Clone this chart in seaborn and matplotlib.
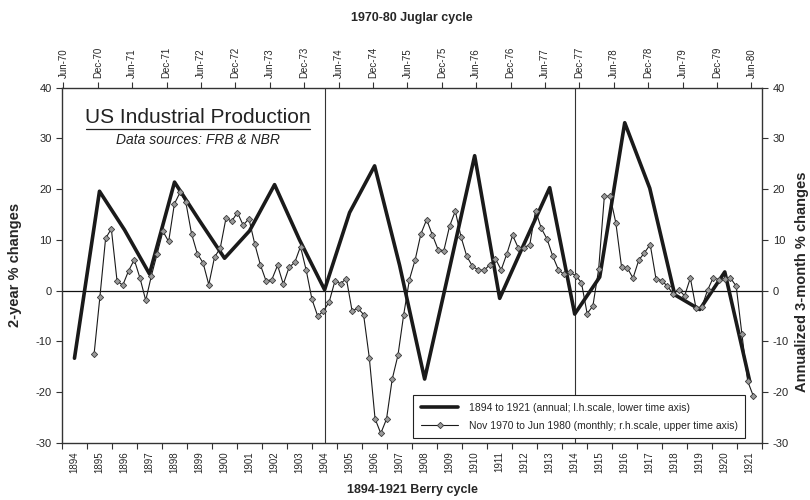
import numpy as np
import pandas as pd
import seaborn as sns
import matplotlib.pyplot as plt
from matplotlib.lines import Line2D

# Annual 2-year % changes 1894-1921 (left scale, lower time axis)
years = [str(y) for y in range(1894, 1922)]
annual = [-13.3, 19.6, 12.0, 3.3, 21.4, 13.8, 6.4, 11.8, 20.9, 10.0,
          0.2, 15.4, 24.6, 5.0, -17.4, 4.5, 26.6, -1.5, 9.5, 20.3,
          -4.6, 2.7, 33.1, 20.2, -0.8, -3.7, 3.7, -17.9]

# Monthly annualized 3-month % changes Nov 1970 - Jun 1980 (right scale, upper axis)
monthly = [-12.4, -1.3,
           10.3, 12.2, 1.9, 1.1, 3.9, 6.1, 2.5, -1.9, 3.0, 7.3, 11.7, 9.7,
           17.1, 19.4, 17.4, 11.2, 7.3, 5.5, 1.2, 6.6, 8.4, 14.3, 13.7, 15.4,
           12.9, 14.2, 9.3, 5.1, 1.9, 2.2, 5.0, 1.3, 4.6, 5.6, 8.7, 4.0,
           -1.7, -5.0, -4.0, -2.2, 1.9, 1.4, 2.4, -4.0, -3.4, -4.7, -13.2, -25.2,
           -28.1, -25.3, -17.4, -12.7, -4.7, 2.2, 6.1, 11.2, 14.0, 11.0, 8.1, 7.9,
           12.7, 15.7, 10.6, 6.8, 4.8, 4.1, 4.0, 5.1, 6.3, 4.1, 7.3, 10.9,
           8.4, 8.5, 9.1, 15.8, 12.3, 10.2, 6.8, 4.1, 3.2, 3.6, 3.0, 1.6,
           -4.5, -3.0, 4.2, 18.6, 18.6, 13.4, 4.7, 4.5, 2.5, 6.0, 7.5, 9.1,
           2.4, 2.0, 0.9, -0.6, 0.2, -1.0, 2.5, -3.5, -3.2, 0.1, 2.6, 2.2,
           2.4, 2.5, 0.9, -8.6, -17.8, -20.8]
month_periods = pd.period_range('1970-11', '1980-06', freq='M')

top_labels = ['Jun-70', 'Dec-70', 'Jun-71', 'Dec-71', 'Jun-72', 'Dec-72', 'Jun-73',
              'Dec-73', 'Jun-74', 'Dec-74', 'Jun-75', 'Dec-75', 'Jun-76', 'Dec-76',
              'Jun-77', 'Dec-77', 'Jun-78', 'Dec-78', 'Jun-79', 'Dec-79', 'Jun-80']
cycle_marks = ['1904', '1914']

label_annual = '1894 to 1921 (annual; l.h.scale, lower time axis)'
label_monthly = 'Nov 1970 to Jun 1980 (monthly; r.h.scale, upper time axis)'

sns.set_style('ticks')
plt.rcParams['font.family'] = ['Liberation Sans', 'DejaVu Sans']
plt.rcParams['axes.unicode_minus'] = False

# months counted from Jun-70 for the upper axis
base = pd.Period('1970-06', freq='M')
month_x = np.array([(p - base).n for p in month_periods]) + 0.35

fig = plt.figure(figsize=(8.1, 5.0), dpi=100)
ax = fig.add_axes([0.0765, 0.114, 0.8646, 0.7106])
ax2 = fig.add_axes(ax.get_position(), facecolor='none')

# lower / left axis: annual series
ax.axhline(0, color='#111111', lw=0.9, zorder=1)
for yr in cycle_marks:
    ax.axvline(years.index(yr), color='#333333', lw=0.8, zorder=1)
sns.lineplot(x=np.arange(len(years)), y=annual, ax=ax, color='#1a1a1a',
             lw=2.6, label=label_annual, zorder=3)
ax.set_xlim(-0.5, len(years) - 0.5)
ax.set_ylim(-30, 40)
ax.set_yticks(range(-30, 41, 10))
ax.set_xticks(np.arange(len(years)))
ax.set_xticklabels(years, rotation=90, fontsize=7)
ax.set_xticks(np.arange(len(years) + 1) - 0.5, minor=True)
ax.tick_params(axis='x', which='major', length=0, pad=6)
ax.tick_params(axis='x', which='minor', length=4, width=0.8, color='#333333')
ax.tick_params(axis='y', labelsize=8, length=4, width=0.8, color='#333333')
for s in ax.spines.values():
    s.set_visible(True)
    s.set_color('#333333')
    s.set_linewidth(1.0)
ax.set_xlabel('')
ax.set_ylabel('')

# upper / right axis: monthly series
sns.lineplot(x=month_x, y=monthly, ax=ax2, color='#1a1a1a', lw=0.8,
             marker='D', markersize=3.2, markerfacecolor='#9a9a9a',
             markeredgecolor='#3a3a3a', markeredgewidth=0.6,
             label=label_monthly, zorder=4)
ax2.set_xlim(-0.26, 121.9)
ax2.set_ylim(-30, 40)
ax2.xaxis.tick_top()
ax2.yaxis.tick_right()
ax2.set_xticks(np.arange(len(top_labels)) * 6)
ax2.set_xticklabels(top_labels, rotation=90, fontsize=7)
ax2.set_yticks(range(-30, 41, 10))
ax2.tick_params(axis='x', length=4, width=0.8, color='#333333', pad=3)
ax2.tick_params(axis='y', labelsize=8, length=4, width=0.8, color='#333333')
for s in ax2.spines.values():
    s.set_visible(False)
ax2.set_xlabel('')
ax2.set_ylabel('')

for a in (ax, ax2):
    if a.get_legend() is not None:
        a.get_legend().remove()

h1, l1 = ax.get_legend_handles_labels()
h2, l2 = ax2.get_legend_handles_labels()
leg = ax2.legend(h1 + h2, l1 + l2, loc='lower right', bbox_to_anchor=(0.976, 0.013),
                 fontsize=7.5, frameon=True, fancybox=False, framealpha=1,
                 edgecolor='#222222', handlelength=3.6, handletextpad=1.0,
                 borderpad=0.75, borderaxespad=0, labelspacing=0.75)
leg.get_frame().set_linewidth(0.8)
leg.set_zorder(10)

# title block
ax.text(0.194, 0.916, 'US Industrial Production', transform=ax.transAxes,
        ha='center', va='center', fontsize=15, color='#222222')
ax.add_line(Line2D([0.034, 0.354], [0.884, 0.884], transform=ax.transAxes,
                   color='#222222', lw=0.9))
ax.text(0.194, 0.853, 'Data sources: FRB & NBR', transform=ax.transAxes,
        ha='center', va='center', fontsize=10, style='italic', color='#222222')

# axis titles
fig.text(0.509, 0.964, '1970-80 Juglar cycle', ha='center', va='center',
         fontsize=9, weight='bold', family=['Liberation Sans Narrow', 'Liberation Sans'])
fig.text(0.509, 0.02, '1894-1921 Berry cycle', ha='center', va='center',
         fontsize=9, weight='bold', family=['Liberation Sans Narrow', 'Liberation Sans'])
fig.text(0.018, 0.47, '2-year % changes', ha='center', va='center',
         rotation=90, fontsize=10.5, weight='bold')
fig.text(0.99, 0.436, 'Annualized 3-month % changes', ha='center', va='center',
         rotation=90, fontsize=10.5, weight='bold')

plt.savefig('out.png', dpi=100)
